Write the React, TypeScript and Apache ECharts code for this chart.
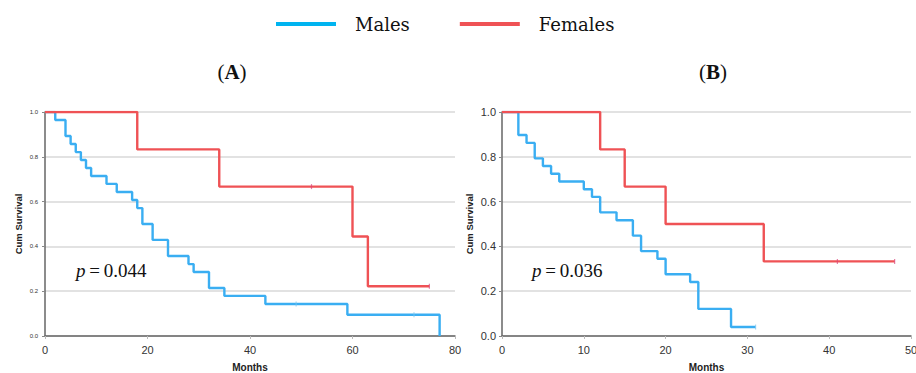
import React, { useEffect, useRef } from "react";
import * as echarts from "echarts";

// Panel A
const malesA: [number, number][] = [
  [0, 1], [2, 0.964], [4, 0.893], [5, 0.857], [6, 0.821], [7, 0.786], [8, 0.75], [9, 0.714],
  [12, 0.679], [14, 0.643], [17, 0.607], [18, 0.571], [19, 0.5], [21, 0.429], [24, 0.357],
  [28, 0.321], [29, 0.286], [32, 0.214], [35, 0.179], [43, 0.143], [59, 0.095], [77, 0],
];
const femalesA: [number, number][] = [
  [0, 1], [18, 0.833], [34, 0.667], [60, 0.444], [63, 0.222], [75, 0.222],
];
const malesCensorA: [number, number][] = [[49, 0.143], [72, 0.095]];
const femalesCensorA: [number, number][] = [[52, 0.667], [75, 0.222]];

// Panel B
const malesB: [number, number][] = [
  [0, 1], [2, 0.897], [3, 0.862], [4, 0.793], [5, 0.759], [6, 0.724], [7, 0.69], [10, 0.655],
  [11, 0.621], [12, 0.552], [14, 0.517], [16, 0.448], [17, 0.379], [19, 0.345], [20, 0.276],
  [23, 0.241], [24, 0.121], [28, 0.04], [31, 0.04],
];
const femalesB: [number, number][] = [
  [0, 1], [12, 0.833], [15, 0.667], [20, 0.5], [32, 0.333], [48, 0.333],
];
const malesCensorB: [number, number][] = [[31, 0.04]];
const femalesCensorB: [number, number][] = [[41, 0.333], [48, 0.333]];

const legendNames = ["Males", "Females"];
const panelTitles = ["A", "B"];
const pValues = ["0.044", "0.036"];
const xMaxes = [80, 50];
const xIntervals = [20, 10];

const BLUE = "#3AAEF2";
const RED = "#EF5255";
const SANS = "'Liberation Sans', Arial, sans-serif";
const SERIF = "'Liberation Serif', 'DejaVu Serif', serif";
const WIDE_SERIF = "'DejaVu Serif', serif";

export default function App() {
  const ref = useRef<HTMLDivElement>(null);
  useEffect(() => {
    if (!ref.current) return;
    const chart = echarts.init(ref.current, undefined, { renderer: "svg" });
    const grids = [
      { left: 45, top: 112, width: 410, height: 224 },
      { left: 502, top: 112, width: 409, height: 224 },
    ];
    const yLabelSizes = [6, 11];
    const yNameGaps = [22, 28];
    const option: any = {
      animation: false,
      backgroundColor: "#fff",
      legend: {
        data: legendNames.map((n, i) => ({
          name: n,
          itemStyle: { color: i === 0 ? "#00B4F0" : RED },
        })),
        left: 271,
        top: 10,
        icon: "rect",
        itemWidth: 60,
        itemHeight: 4,
        itemGap: 50,
        selectedMode: false,
        textStyle: {
          fontFamily: WIDE_SERIF,
          fontSize: 18,
          color: "#111",
          padding: [0, 0, 0, 14],
        },
      },
      grid: grids.map((g) => ({ ...g, containLabel: false, outerBoundsMode: "none" })),
      xAxis: [0, 1].map((i) => ({
        type: "value",
        gridIndex: i,
        min: 0,
        max: xMaxes[i],
        interval: xIntervals[i],
        name: "Months",
        nameLocation: "middle",
        nameGap: 26,
        nameTextStyle: { fontFamily: SANS, fontSize: 10, fontWeight: "bold", color: "#222" },
        axisLine: { show: true, onZero: false, lineStyle: { color: "#666", width: 1.5 } },
        axisTick: { show: true, length: 3, lineStyle: { color: "#bbb" } },
        axisLabel: { fontFamily: SANS, fontSize: 11, color: "#333", margin: 8 },
        splitLine: { show: false },
      })),
      yAxis: [0, 1].map((i) => ({
        type: "value",
        gridIndex: i,
        min: 0,
        max: 1,
        interval: 0.2,
        name: "Cum Survival",
        nameLocation: "middle",
        nameGap: yNameGaps[i],
        nameRotate: 90,
        nameTextStyle: { fontFamily: SANS, fontSize: 9.5, fontWeight: "bold", color: "#222" },
        axisLine: { show: true, lineStyle: { color: "#666", width: 1.5 } },
        axisTick: { show: true, length: 3, lineStyle: { color: "#888" } },
        axisLabel: {
          fontFamily: SANS,
          fontSize: yLabelSizes[i],
          color: "#333",
          margin: i === 0 ? 7 : 6,
          formatter: (v: number) => v.toFixed(1),
        },
        splitLine: { show: true, lineStyle: { color: "#d9d9d9", width: 1.5 } },
      })),
      series: [
        { name: "Males", type: "line", step: "end", xAxisIndex: 0, yAxisIndex: 0, data: malesA, color: BLUE },
        { name: "Females", type: "line", step: "end", xAxisIndex: 0, yAxisIndex: 0, data: femalesA, color: RED },
        { name: "Males", type: "line", step: "end", xAxisIndex: 1, yAxisIndex: 1, data: malesB, color: BLUE },
        { name: "Females", type: "line", step: "end", xAxisIndex: 1, yAxisIndex: 1, data: femalesB, color: RED },
      ].map((s: any) => ({
        ...s,
        symbol: "none",
        lineStyle: { width: 2.4, color: s.color },
        itemStyle: { color: s.color },
      })).concat(
        [
          { name: "Males censored A", data: malesCensorA, idx: 0, color: BLUE },
          { name: "Females censored A", data: femalesCensorA, idx: 0, color: RED },
          { name: "Males censored B", data: malesCensorB, idx: 1, color: BLUE },
          { name: "Females censored B", data: femalesCensorB, idx: 1, color: RED },
        ].map((c) => ({
          name: c.name,
          type: "scatter",
          xAxisIndex: c.idx,
          yAxisIndex: c.idx,
          data: c.data,
          symbol: "rect",
          symbolSize: [1.2, 5],
          itemStyle: { color: c.color === RED ? "#d9457a" : "#7cc6f0", opacity: 0.7 },
          z: 3,
        }))
      ),
      graphic: [
        ...[0, 1].map((i) => ({
          type: "text",
          x: i === 0 ? 232 : 713,
          y: 72,
          style: {
            text: `{n|(}{b|${panelTitles[i]}}{n|)}`,
            align: "center",
            verticalAlign: "middle",
            rich: {
              n: { fontFamily: SERIF, fontSize: 21, fill: "#111" },
              b: { fontFamily: SERIF, fontSize: 21, fontWeight: "bold", fill: "#111" },
            },
          },
        })),
        ...[0, 1].map((i) => ({
          type: "text",
          x: i === 0 ? 76 : 532,
          y: 270,
          style: {
            text: `{i|p}{n|\u2009=\u2009${pValues[i]}}`,
            align: "left",
            verticalAlign: "middle",
            rich: {
              i: { fontFamily: SERIF, fontSize: 19, fontStyle: "italic", fill: "#111" },
              n: { fontFamily: SERIF, fontSize: 19, fill: "#111" },
            },
          },
        })),
      ],
    };
    chart.setOption(option);
    return () => chart.dispose();
  }, []);
  return (
    <div
      ref={ref}
      style={{ position: "fixed", left: 0, top: 0, width: 916, height: 373, background: "#fff" }}
    />
  );
}
